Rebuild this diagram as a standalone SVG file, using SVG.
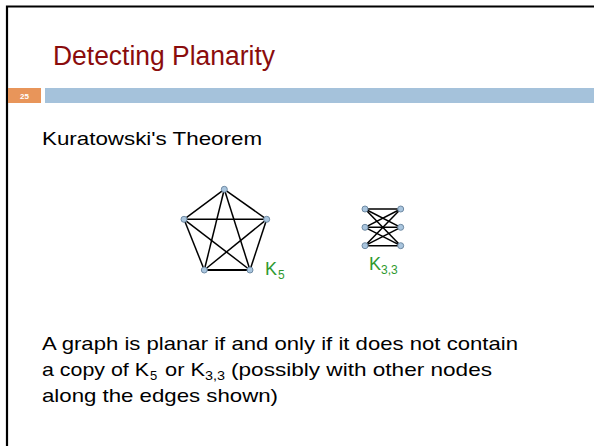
<svg xmlns="http://www.w3.org/2000/svg" width="594" height="446" viewBox="0 0 594 446">
<style>
.txt{font-family:"Century Gothic","URW Gothic","Liberation Sans",sans-serif;fill:#000}
.edge{stroke:#000;stroke-width:1.5;fill:none}
.node{fill:#a9c5de;stroke:#6f8aa3;stroke-width:1}
.lbl{font-family:"Liberation Sans",Arial,sans-serif;fill:#2f9a2f}
</style>
<rect x="0" y="0" width="594" height="446" fill="#fff"/>
<path d="M7 446 V6.5 H594" fill="none" stroke="#000" stroke-width="2.2"/>
<text class="txt" x="53" y="65" font-size="27" fill="#8a0c0c" style="fill:#8a0c0c" textLength="222" lengthAdjust="spacingAndGlyphs">Detecting Planarity</text>
<rect x="8" y="88" width="33" height="15" fill="#e8955a"/>
<text x="24.5" y="99" font-family="Liberation Sans,sans-serif" font-size="8" font-weight="bold" fill="#fff" text-anchor="middle">25</text>
<rect x="45" y="88" width="549" height="15" fill="#a5c2db"/>
<text class="txt" x="42" y="145" font-size="19" textLength="220" lengthAdjust="spacingAndGlyphs">Kuratowski's Theorem</text>
<g id="connectors">
<g id="k5-edges" class="edge">
<line x1="224.3" y1="189.3" x2="184" y2="219.3"/>
<line x1="224.3" y1="189.3" x2="266.7" y2="219.3"/>
<line x1="224.3" y1="189.3" x2="204.3" y2="270"/>
<line x1="224.3" y1="189.3" x2="250" y2="270"/>
<line x1="184" y1="219.3" x2="266.7" y2="219.3"/>
<line x1="184" y1="219.3" x2="204.3" y2="270"/>
<line x1="184" y1="219.3" x2="250" y2="270"/>
<line x1="266.7" y1="219.3" x2="204.3" y2="270"/>
<line x1="266.7" y1="219.3" x2="250" y2="270"/>
<line x1="204.3" y1="270" x2="250" y2="270" stroke-width="2"/>
</g>
<g id="k33-edges" class="edge">
<line x1="365" y1="209" x2="400.7" y2="209"/>
<line x1="365" y1="209" x2="400.7" y2="227.3"/>
<line x1="365" y1="209" x2="400.7" y2="245.7"/>
<line x1="365" y1="227.3" x2="400.7" y2="209"/>
<line x1="365" y1="227.3" x2="400.7" y2="227.3"/>
<line x1="365" y1="227.3" x2="400.7" y2="245.7"/>
<line x1="365" y1="245.7" x2="400.7" y2="209"/>
<line x1="365" y1="245.7" x2="400.7" y2="227.3"/>
<line x1="365" y1="245.7" x2="400.7" y2="245.7"/>
</g>
</g>
<g id="k5-a"><circle class="node" cx="224.3" cy="189.3" r="3"/></g>
<g id="k5-b"><circle class="node" cx="184" cy="219.3" r="3"/></g>
<g id="k5-c"><circle class="node" cx="266.7" cy="219.3" r="3"/></g>
<g id="k5-d"><circle class="node" cx="204.3" cy="270" r="3"/></g>
<g id="k5-e"><circle class="node" cx="250" cy="270" r="3"/></g>
<g id="k33-l1"><circle class="node" cx="365" cy="209" r="3"/></g>
<g id="k33-l2"><circle class="node" cx="365" cy="227.3" r="3"/></g>
<g id="k33-l3"><circle class="node" cx="365" cy="245.7" r="3"/></g>
<g id="k33-r1"><circle class="node" cx="400.7" cy="209" r="3"/></g>
<g id="k33-r2"><circle class="node" cx="400.7" cy="227.3" r="3"/></g>
<g id="k33-r3"><circle class="node" cx="400.7" cy="245.7" r="3"/></g>
<text class="lbl" x="265" y="275" font-size="18">K</text>
<text class="lbl" x="278" y="279" font-size="12">5</text>
<text class="lbl" x="369" y="270" font-size="18">K</text>
<text class="lbl" x="381" y="274" font-size="12">3,3</text>
<text class="txt" x="42" y="350" font-size="19" textLength="476" lengthAdjust="spacingAndGlyphs">A graph is planar if and only if it does not contain</text>
<text class="txt" x="42" y="376" font-size="19" textLength="107" lengthAdjust="spacingAndGlyphs">a copy of K</text>
<text class="txt" x="150" y="380" font-size="13">5</text>
<text class="txt" x="165" y="376" font-size="19" textLength="40" lengthAdjust="spacingAndGlyphs">or K</text>
<text class="txt" x="205" y="380" font-size="13" textLength="20" lengthAdjust="spacingAndGlyphs">3,3</text>
<text class="txt" x="231" y="376" font-size="19" textLength="261" lengthAdjust="spacingAndGlyphs">(possibly with other nodes</text>
<text class="txt" x="42" y="402" font-size="19" textLength="236" lengthAdjust="spacingAndGlyphs">along the edges shown)</text>
</svg>
